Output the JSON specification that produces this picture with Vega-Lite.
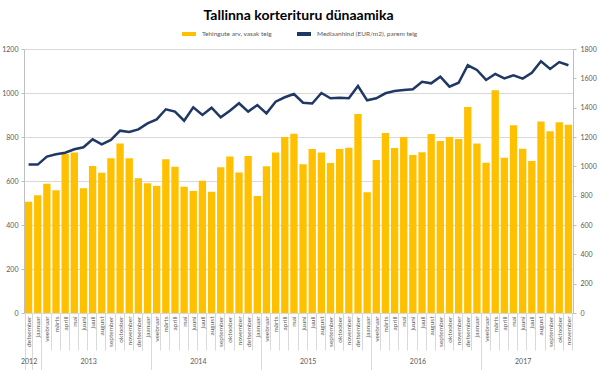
{
  "$schema": "https://vega.github.io/schema/vega-lite/v6.json",
  "width": 549,
  "height": 264,
  "autosize": {"type": "none"},
  "padding": {"left": 24, "top": 49, "right": 27, "bottom": 57},
  "background": "white",
  "title": {"text": "Tallinna korterituru dünaamika", "font": "Lato", "fontSize": 14, "fontWeight": "bold", "color": "#000000", "anchor": "middle", "offset": 2},
  "config": {
    "view": {"stroke": null},
    "axis": {"labelFont": "Lato", "labelFontSize": 7, "labelColor": "#595959", "domainColor": "#bfbfbf", "tickColor": "#bfbfbf"},
    "legend": {"layout": {"top": {"anchor": "middle"}}}
  },
  "data": {"values": [
    {"kuu": "2012-12", "tehingud": 506, "hind": 1012},
    {"kuu": "2013-01", "tehingud": 535, "hind": 1012},
    {"kuu": "2013-02", "tehingud": 588, "hind": 1066},
    {"kuu": "2013-03", "tehingud": 558, "hind": 1082},
    {"kuu": "2013-04", "tehingud": 723, "hind": 1093},
    {"kuu": "2013-05", "tehingud": 730, "hind": 1116},
    {"kuu": "2013-06", "tehingud": 567, "hind": 1130},
    {"kuu": "2013-07", "tehingud": 668, "hind": 1184},
    {"kuu": "2013-08", "tehingud": 638, "hind": 1150},
    {"kuu": "2013-09", "tehingud": 703, "hind": 1180},
    {"kuu": "2013-10", "tehingud": 771, "hind": 1243},
    {"kuu": "2013-11", "tehingud": 703, "hind": 1234},
    {"kuu": "2013-12", "tehingud": 612, "hind": 1252},
    {"kuu": "2014-01", "tehingud": 590, "hind": 1293},
    {"kuu": "2014-02", "tehingud": 578, "hind": 1320},
    {"kuu": "2014-03", "tehingud": 699, "hind": 1389},
    {"kuu": "2014-04", "tehingud": 665, "hind": 1373},
    {"kuu": "2014-05", "tehingud": 574, "hind": 1311},
    {"kuu": "2014-06", "tehingud": 555, "hind": 1402},
    {"kuu": "2014-07", "tehingud": 601, "hind": 1350},
    {"kuu": "2014-08", "tehingud": 551, "hind": 1400},
    {"kuu": "2014-09", "tehingud": 662, "hind": 1334},
    {"kuu": "2014-10", "tehingud": 711, "hind": 1379},
    {"kuu": "2014-11", "tehingud": 639, "hind": 1430},
    {"kuu": "2014-12", "tehingud": 714, "hind": 1373},
    {"kuu": "2015-01", "tehingud": 532, "hind": 1418},
    {"kuu": "2015-02", "tehingud": 667, "hind": 1361},
    {"kuu": "2015-03", "tehingud": 730, "hind": 1441},
    {"kuu": "2015-04", "tehingud": 800, "hind": 1471},
    {"kuu": "2015-05", "tehingud": 815, "hind": 1493},
    {"kuu": "2015-06", "tehingud": 676, "hind": 1434},
    {"kuu": "2015-07", "tehingud": 745, "hind": 1428},
    {"kuu": "2015-08", "tehingud": 730, "hind": 1500},
    {"kuu": "2015-09", "tehingud": 682, "hind": 1464},
    {"kuu": "2015-10", "tehingud": 745, "hind": 1468},
    {"kuu": "2015-11", "tehingud": 751, "hind": 1464},
    {"kuu": "2015-12", "tehingud": 905, "hind": 1548},
    {"kuu": "2016-01", "tehingud": 549, "hind": 1450},
    {"kuu": "2016-02", "tehingud": 695, "hind": 1464},
    {"kuu": "2016-03", "tehingud": 818, "hind": 1498},
    {"kuu": "2016-04", "tehingud": 750, "hind": 1514},
    {"kuu": "2016-05", "tehingud": 800, "hind": 1520},
    {"kuu": "2016-06", "tehingud": 718, "hind": 1525},
    {"kuu": "2016-07", "tehingud": 731, "hind": 1577},
    {"kuu": "2016-08", "tehingud": 814, "hind": 1566},
    {"kuu": "2016-09", "tehingud": 782, "hind": 1611},
    {"kuu": "2016-10", "tehingud": 800, "hind": 1543},
    {"kuu": "2016-11", "tehingud": 791, "hind": 1570},
    {"kuu": "2016-12", "tehingud": 936, "hind": 1689},
    {"kuu": "2017-01", "tehingud": 770, "hind": 1657},
    {"kuu": "2017-02", "tehingud": 683, "hind": 1589},
    {"kuu": "2017-03", "tehingud": 1012, "hind": 1630},
    {"kuu": "2017-04", "tehingud": 706, "hind": 1600},
    {"kuu": "2017-05", "tehingud": 853, "hind": 1620},
    {"kuu": "2017-06", "tehingud": 747, "hind": 1598},
    {"kuu": "2017-07", "tehingud": 691, "hind": 1638},
    {"kuu": "2017-08", "tehingud": 870, "hind": 1716},
    {"kuu": "2017-09", "tehingud": 826, "hind": 1664},
    {"kuu": "2017-10", "tehingud": 867, "hind": 1711},
    {"kuu": "2017-11", "tehingud": 856, "hind": 1689}
  ]},
  "layer": [
    {
      "mark": {"type": "bar"},
      "encoding": {
        "x": {
          "field": "kuu", "type": "ordinal",
          "scale": {"paddingInner": 0.2, "paddingOuter": 0.1},
          "axis": {
            "title": null, "labelAngle": -90, "labelFontSize": 6.5,
            "labelExpr": "isString(datum.value) ? ['jaanuar','veebruar','märts','aprill','mai','juuni','juuli','august','september','oktoober','november','detsember'][toNumber(substring(datum.value,5,7))-1] : ''",
            "tickBand": "extent",
            "tickSize": {"condition": {"test": "!isString(datum.value) || datum.value == '2012-12' || datum.value == '2013-01' || datum.value == '2014-01' || datum.value == '2015-01' || datum.value == '2016-01' || datum.value == '2017-01'", "value": 57}, "value": 37},
            "labelPadding": {"condition": {"test": "!isString(datum.value) || datum.value == '2012-12' || datum.value == '2013-01' || datum.value == '2014-01' || datum.value == '2015-01' || datum.value == '2016-01' || datum.value == '2017-01'", "value": -54}, "value": -34},
            "tickColor": "#d9d9d9", "domainColor": "#d9d9d9"
          }
        },
        "y": {
          "field": "tehingud", "type": "quantitative",
          "scale": {"domain": [0, 1200]},
          "axis": {"title": null, "format": "d", "values": [0, 200, 400, 600, 800, 1000, 1200], "grid": true, "gridColor": "#d9d9d9", "tickSize": 3, "labelPadding": 3}
        },
        "color": {
          "datum": "Tehingute arv, vasak telg",
          "scale": {"domain": ["Tehingute arv, vasak telg", "Mediaanhind (EUR/m2), parem telg"], "range": ["#FFC000", "#1F3864"]},
          "legend": {
            "title": null, "orient": "top", "direction": "horizontal",
            "labelFont": "Lato", "labelFontSize": 6.5, "labelColor": "#595959",
            "symbolType": "stroke", "symbolStrokeWidth": 4, "symbolSize": 196, "columnPadding": 17, "offset": 7
          }
        }
      }
    },
    {
      "mark": {"type": "line", "strokeWidth": 2.5},
      "encoding": {
        "x": {
          "field": "kuu", "type": "ordinal",
          "scale": {"paddingInner": 0.2, "paddingOuter": 0.1},
          "axis": {
            "orient": "bottom", "title": null, "labelAngle": 0, "labelFontSize": 7,
            "values": ["2012-12", "2013-06", "2014-06", "2015-06", "2016-06", "2017-06"],
            "labelExpr": "isString(datum.value) ? substring(datum.value,0,4) : ''",
            "labelOffset": {"condition": {"test": "datum.value == '2012-12' || datum.value == '2017-06'", "value": 0}, "value": 4.6},
            "ticks": false, "domain": false, "labelPadding": 44
          }
        },
        "y": {
          "field": "hind", "type": "quantitative",
          "scale": {"domain": [0, 1800]},
          "axis": {"title": null, "format": "d", "orient": "right", "values": [0, 200, 400, 600, 800, 1000, 1200, 1400, 1600, 1800], "grid": false, "tickSize": 3, "labelPadding": 4}
        },
        "color": {"datum": "Mediaanhind (EUR/m2), parem telg"}
      }
    }
  ],
  "resolve": {"scale": {"x": "independent", "y": "independent"}}
}
